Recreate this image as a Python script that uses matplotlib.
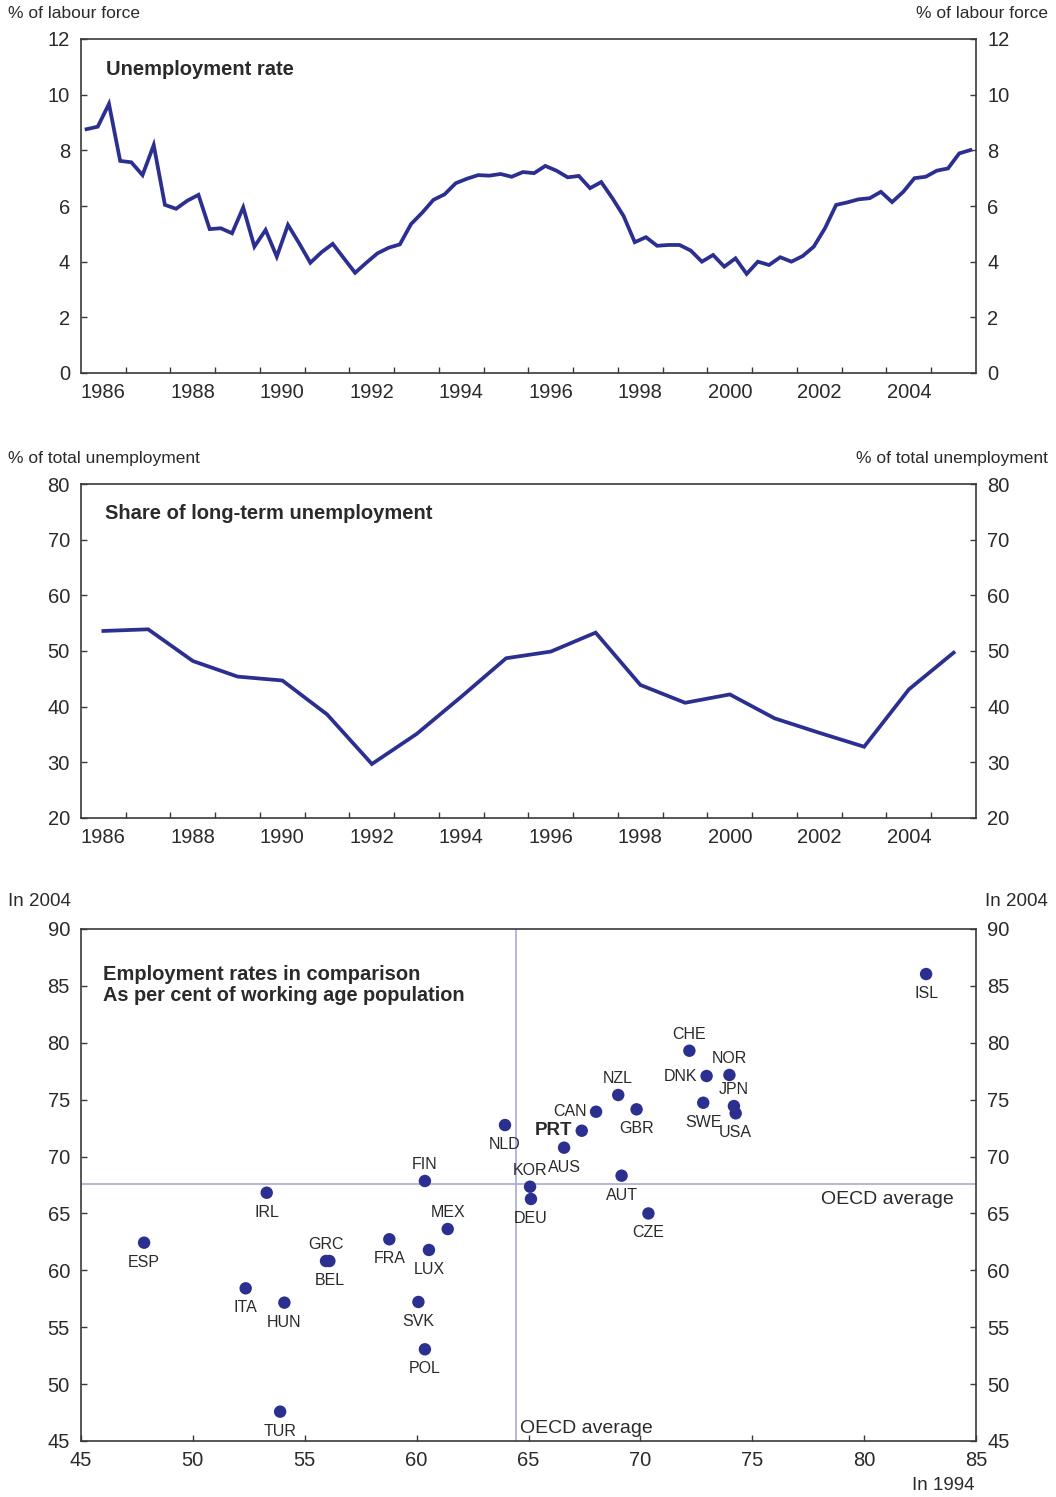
import matplotlib
matplotlib.use('Agg')
import matplotlib.pyplot as plt
import matplotlib.transforms as mtransforms
import numpy as np
import pandas as pd

plt.rcParams['font.family'] = ['Liberation Sans', 'DejaVu Sans']

# ---------------- data ----------------
quarters = pd.period_range('1986Q1', '2005Q4', freq='Q')
unemployment = [8.76, 8.85, 9.67, 7.62, 7.57, 7.11, 8.19, 6.04, 5.90, 6.19,
                6.40, 5.17, 5.20, 5.02, 5.95, 4.54, 5.14, 4.18, 5.32, 4.66,
                3.96, 4.34, 4.64, 4.12, 3.60, 3.96, 4.30, 4.50, 4.62, 5.35,
                5.76, 6.22, 6.42, 6.82, 6.98, 7.11, 7.09, 7.15, 7.05, 7.22,
                7.18, 7.44, 7.27, 7.03, 7.08, 6.64, 6.86, 6.28, 5.64, 4.70,
                4.88, 4.57, 4.60, 4.60, 4.40, 4.00, 4.24, 3.82, 4.12, 3.56,
                4.00, 3.88, 4.16, 4.00, 4.20, 4.54, 5.20, 6.04, 6.13, 6.24,
                6.28, 6.51, 6.14, 6.51, 7.00, 7.05, 7.27, 7.35, 7.89, 8.01]

lt_years = list(range(1986, 2006))
lt_share = [53.6, 53.9, 48.2, 45.4, 44.7, 38.6, 29.7, 35.1, 41.8, 48.7,
            49.9, 53.3, 43.9, 40.7, 42.2, 37.9, 35.3, 32.8, 43.1, 49.7]

countries = ['ISL', 'CHE', 'NOR', 'DNK', 'JPN', 'USA', 'SWE', 'NZL', 'GBR', 'CAN',
             'PRT', 'AUS', 'NLD', 'KOR', 'DEU', 'AUT', 'CZE', 'FIN', 'MEX', 'LUX',
             'FRA', 'SVK', 'POL', 'GRC', 'BEL', 'ESP', 'IRL', 'ITA', 'HUN', 'TUR']
emp_1994 = [82.77, 72.19, 73.98, 72.96, 74.18, 74.26, 72.81, 69.01, 69.83, 68.02,
            67.38, 66.59, 63.95, 65.07, 65.11, 69.16, 70.36, 60.37, 61.39, 60.55,
            58.78, 60.08, 60.37, 55.95, 56.10, 47.82, 53.30, 52.36, 54.09, 53.90]
emp_2004 = [86.04, 79.30, 77.17, 77.08, 74.44, 73.80, 74.73, 75.41, 74.15, 73.94,
            72.27, 70.78, 72.77, 67.35, 66.27, 68.32, 65.00, 67.85, 63.63, 61.79,
            62.73, 57.22, 53.06, 60.82, 60.82, 62.43, 66.82, 58.42, 57.16, 47.58]
oecd_1994 = 64.43
oecd_2004 = 67.59

# ---------------- style ----------------
LINE = '#2B2F8F'
TXT = '#2A2A2A'
SPINE = '#3A3A3A'
REF = '#A9A9D8'
TICK_FS = 14.5
UNIT_FS = 12.5

W, H = 1056, 1497
fig = plt.figure(figsize=(W / 100, H / 100), dpi=100)


def ax_at(left, top, right, bottom):
    return fig.add_axes([left / W, 1 - bottom / H, (right - left) / W, (bottom - top) / H])


def style_axes(ax):
    for s in ax.spines.values():
        s.set_color(SPINE)
        s.set_linewidth(1.2)
    ax.tick_params(axis='y', which='both', direction='in', length=4, width=1,
                   color=SPINE, labelsize=TICK_FS, labelcolor=TXT,
                   left=True, right=True, labelleft=True, labelright=True, pad=8)
    ax.tick_params(axis='x', which='both', direction='in', length=4, width=1,
                   color=SPINE, labelsize=TICK_FS, labelcolor=TXT, pad=7.5)


def time_axis(ax):
    ax.set_xlim(1986, 2006)
    ax.set_xticks(np.arange(1987, 2006))
    ax.set_xticklabels([])
    lab = np.arange(1986, 2005, 2)
    ax.set_xticks(lab + 0.5, minor=True)
    ax.set_xticklabels([str(y) for y in lab], minor=True)
    ax.tick_params(axis='x', which='minor', length=0)


# ---------------- top: unemployment rate ----------------
ax1 = ax_at(81, 39, 976, 373)
xq = np.array([p.year + (p.quarter - 0.5) / 4 for p in quarters])
ax1.plot(xq, unemployment, color=LINE, lw=2.7, solid_joinstyle='miter')
ax1.set_ylim(0, 12)
ax1.set_yticks(range(0, 13, 2))
style_axes(ax1)
time_axis(ax1)
ax1.text(0.028, 0.91, 'Unemployment rate', transform=ax1.transAxes,
         fontsize=14.5, fontweight='bold', color=TXT, va='center', ha='left')
fig.text(8 / W, 1 - 14 / H, '% of labour force', fontsize=UNIT_FS, color=TXT, va='center', ha='left')
fig.text(1048 / W, 1 - 14 / H, '% of labour force', fontsize=UNIT_FS, color=TXT, va='center', ha='right')

# ---------------- middle: long-term unemployment ----------------
ax2 = ax_at(81, 484, 976, 818)
ax2.plot(np.array(lt_years) + 0.5, lt_share, color=LINE, lw=2.7, solid_joinstyle='miter')
ax2.set_ylim(20, 80)
ax2.set_yticks(range(20, 81, 10))
style_axes(ax2)
time_axis(ax2)
ax2.text(0.027, 0.913, 'Share of long-term unemployment', transform=ax2.transAxes,
         fontsize=14.5, fontweight='bold', color=TXT, va='center', ha='left')
fig.text(8 / W, 1 - 459 / H, '% of total unemployment', fontsize=UNIT_FS, color=TXT, va='center', ha='left')
fig.text(1048 / W, 1 - 459 / H, '% of total unemployment', fontsize=UNIT_FS, color=TXT, va='center', ha='right')

# ---------------- bottom: scatter ----------------
ax3 = ax_at(81, 929, 976, 1441)
ax3.set_xlim(45, 85)
ax3.set_ylim(45, 90)
ax3.set_xticks(range(45, 86, 5))
ax3.set_yticks(range(45, 91, 5))
style_axes(ax3)
ax3.tick_params(axis='x', pad=7)
ax3.axvline(oecd_1994, color=REF, lw=1.2, zorder=1)
ax3.axhline(oecd_2004, color=REF, lw=1.2, zorder=1)
ax3.scatter(emp_1994, emp_2004, s=80, color=LINE, edgecolors='none', zorder=3)

above = {'CHE', 'NOR', 'JPN', 'NZL', 'KOR', 'FIN', 'MEX', 'GRC'}
left = {'DNK', 'CAN', 'PRT'}
for c, x, y in zip(countries, emp_1994, emp_2004):
    if c in above:
        off, ha = (0, 12), 'center'
    elif c in left:
        off, ha = (-7, 0), 'right'
    else:
        off, ha = (0, -14), 'center'
    bold = c == 'PRT'
    ax3.annotate(c, (x, y), xytext=off, textcoords='offset points', ha=ha, va='center',
                 fontsize=13.5 if bold else 11.5, fontweight='bold' if bold else 'normal',
                 color=TXT, zorder=4)

blend_h = mtransforms.blended_transform_factory(ax3.transAxes, ax3.transData)
ax3.annotate('OECD average', (0.975, oecd_2004), xycoords=blend_h, xytext=(0, -11),
             textcoords='offset points', ha='right', va='center', fontsize=14, color=TXT)
blend_v = mtransforms.blended_transform_factory(ax3.transData, ax3.transAxes)
ax3.annotate('OECD average', (oecd_1994, 0), xycoords=blend_v, xytext=(3, 9),
             textcoords='offset points', ha='left', va='center', fontsize=14, color=TXT)

ax3.text(0.025, 0.912, 'Employment rates in comparison', transform=ax3.transAxes,
         fontsize=14.5, fontweight='bold', color=TXT, va='center', ha='left')
ax3.text(0.025, 0.871, 'As per cent of working age population', transform=ax3.transAxes,
         fontsize=14.3, fontweight='bold', color=TXT, va='center', ha='left')

fig.text(8 / W, 1 - 901 / H, 'In 2004', fontsize=13.5, color=TXT, va='center', ha='left')
fig.text(1048 / W, 1 - 901 / H, 'In 2004', fontsize=13.5, color=TXT, va='center', ha='right')
fig.text(974 / W, 1 - 1485 / H, 'In 1994', fontsize=13.5, color=TXT, va='center', ha='right')

fig.savefig('out.png', dpi=100, facecolor='white')
